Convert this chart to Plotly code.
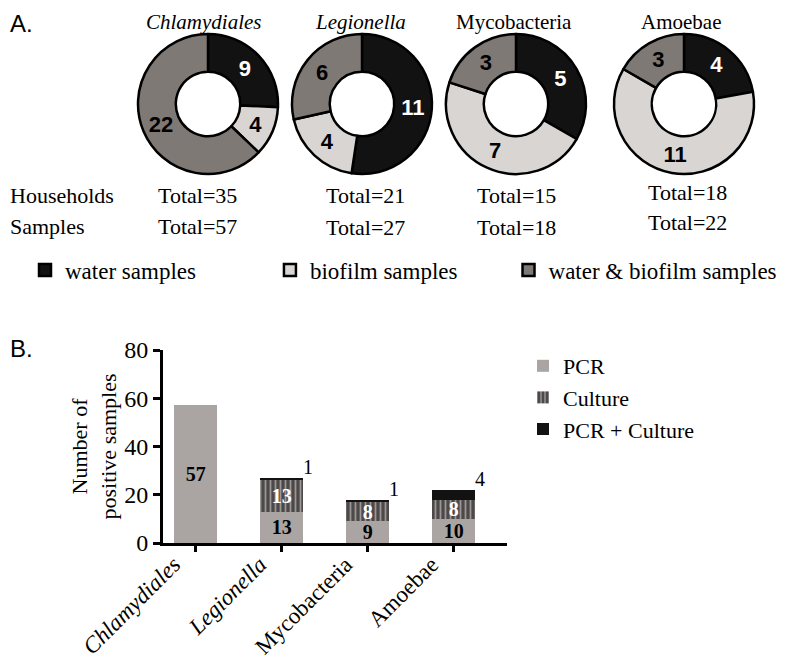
import plotly.graph_objects as go

# page body has an 8px margin: figure is sized to fill the rest of the window
OX, OY = 8, 8
W, H = 782, 653

# ---------------- data ----------------
organisms = ["Chlamydiales", "Legionella", "Mycobacteria", "Amoebae"]
organism_ticktext = ["<i>Chlamydiales</i>", "<i>Legionella</i>", "Mycobacteria", "Amoebae"]
sample_types = ["water samples", "biofilm samples", "water & biofilm samples"]
water_only = [9, 11, 5, 4]
biofilm_only = [4, 4, 7, 11]
water_and_biofilm = [22, 6, 3, 3]
households_total = [35, 21, 15, 18]
samples_total = [57, 27, 18, 22]

method_names = ["PCR", "Culture", "PCR + Culture"]
pcr = [57, 13, 9, 10]
culture = [0, 13, 8, 8]
pcr_culture = [0, 1, 1, 4]
y_ticks = [0, 20, 40, 60, 80]

# ---------------- styling ----------------
SERIF = "Liberation Serif"
SANS = "Liberation Sans"
slice_colors = ["#121212", "#d9d5d2", "#7f7975"]
slice_text_colors = ["white", "black", "black"]
pcr_color = "#aaa4a3"
culture_bg = "#4e4949"
culture_fg = "#9c9797"
both_color = "#121212"

# trailing no-break spaces only widen the legend entries (spacing like the reference)
NBSP = "\u00a0"
legend_pad = [12, 8, 0]
legend_labels = [t + NBSP * p for t, p in zip(sample_types, legend_pad)]


def fx(px):
    return (px - OX) / W


def fy(py):
    return 1 - (py - OY) / H


fig = go.Figure()

# ---------------- Panel A: donuts ----------------
pie_cx = [208, 362, 516, 684]
pie_cy = 104
pie_r = 70
title_cx = [204, 360, 514, 681]
total_cx = [197, 365, 516, 687]
hh_y = [195, 195, 195, 193]
smp_y = [226, 227, 227, 222]

for i, org in enumerate(organisms):
    vals = [water_only[i], biofilm_only[i], water_and_biofilm[i]]
    cx = pie_cx[i]
    fig.add_trace(go.Pie(
        labels=legend_labels,
        values=vals,
        hole=0.46,
        sort=False,
        direction="clockwise",
        rotation=0,
        marker=dict(colors=slice_colors, line=dict(color="black", width=2.5)),
        textinfo="value",
        textposition="inside",
        insidetextorientation="horizontal",
        textfont=dict(family=SANS, size=22, color=slice_text_colors, weight="bold"),
        domain=dict(x=[fx(cx - pie_r), fx(cx + pie_r)],
                    y=[fy(pie_cy + pie_r), fy(pie_cy - pie_r)]),
        legend="legend",
        showlegend=(i == 0),
        name=org,
    ))
    fig.add_annotation(text=organism_ticktext[i], xref="paper", yref="paper",
                       x=fx(title_cx[i]), y=1, xanchor="center", yanchor="top",
                       showarrow=False, font=dict(family=SERIF, size=21, color="black"))
    fig.add_annotation(text=f"Total={households_total[i]}", xref="paper", yref="paper",
                       x=fx(total_cx[i]), y=fy(hh_y[i]), xanchor="center", yanchor="middle",
                       showarrow=False, font=dict(family=SERIF, size=22, color="black"))
    fig.add_annotation(text=f"Total={samples_total[i]}", xref="paper", yref="paper",
                       x=fx(total_cx[i]), y=fy(smp_y[i]), xanchor="center", yanchor="middle",
                       showarrow=False, font=dict(family=SERIF, size=22, color="black"))

fig.add_annotation(text="Households", xref="paper", yref="paper", x=0, y=fy(195),
                   xanchor="left", yanchor="middle", showarrow=False,
                   font=dict(family=SERIF, size=22, color="black"))
fig.add_annotation(text="Samples", xref="paper", yref="paper", x=0, y=fy(226),
                   xanchor="left", yanchor="middle", showarrow=False,
                   font=dict(family=SERIF, size=22, color="black"))
fig.add_annotation(text="A.", xref="paper", yref="paper", x=0, y=1,
                   xanchor="left", yanchor="top", showarrow=False,
                   font=dict(family=SANS, size=24, color="black"))
fig.add_annotation(text="B.", xref="paper", yref="paper", x=0, y=fy(348),
                   xanchor="left", yanchor="middle", showarrow=False,
                   font=dict(family=SANS, size=24, color="black"))

# ---------------- Panel B: stacked bars ----------------
def blank_zero(vals):
    return [str(v) if v else "" for v in vals]

fig.add_trace(go.Bar(
    x=organisms, y=pcr, name=method_names[0],
    marker=dict(color=pcr_color, line=dict(width=0)),
    text=blank_zero(pcr), textposition="inside", insidetextanchor="middle", textangle=0,
    textfont=dict(family=SERIF, size=20, color="black", weight="bold"),
    legend="legend2", legendgroup="pcr", xaxis="x", yaxis="y",
))
fig.add_trace(go.Bar(
    x=organisms, y=culture, name=method_names[1],
    marker=dict(color=culture_bg, line=dict(width=0),
                pattern=dict(shape="|", bgcolor=culture_bg, fgcolor=culture_fg,
                             size=5, solidity=0.35)),
    text=blank_zero(culture), textposition="inside", insidetextanchor="middle", textangle=0,
    textfont=dict(family=SERIF, size=20, color="white", weight="bold"),
    legend="legend2", legendgroup="culture", xaxis="x", yaxis="y",
))
fig.add_trace(go.Bar(
    x=organisms, y=pcr_culture, name=method_names[2],
    marker=dict(color=both_color, line=dict(width=0)),
    textposition="none",
    legend="legend2", legendgroup="both", xaxis="x", yaxis="y",
))

for i, org in enumerate(organisms):
    if pcr_culture[i]:
        fig.add_annotation(text=str(pcr_culture[i]), xref="x", yref="y",
                           x=org, y=pcr[i] + culture[i] + pcr_culture[i],
                           xanchor="left", yanchor="bottom", xshift=19, yshift=-2,
                           showarrow=False, font=dict(family=SERIF, size=20, color="black"))

fig.update_layout(
    template="none",
    width=W, height=H,
    margin=dict(l=0, r=0, t=0, b=0, autoexpand=False),
    paper_bgcolor="white", plot_bgcolor="white",
    barmode="stack", bargap=0.5,
    uniformtext=dict(minsize=19, mode="show"),
    font=dict(family=SERIF, color="black"),
    xaxis=dict(domain=[fx(163), fx(507)], range=[-0.38, 3.62], automargin=False,
               tickmode="array", tickvals=organisms, ticktext=organism_ticktext,
               tickangle=-45, tickfont=dict(family=SERIF, size=23, color="black"),
               ticklabelshift=-22, ticklabelstandoff=-10,
               showline=True, linecolor="black", linewidth=3,
               ticks="outside", ticklen=6, tickwidth=3, tickcolor="black",
               showgrid=False, zeroline=False, anchor="y"),
    yaxis=dict(domain=[fy(543), fy(350)], range=[0, 80], automargin=False,
               tickmode="array", tickvals=y_ticks,
               tickfont=dict(family=SERIF, size=24, color="black"),
               showline=True, linecolor="black", linewidth=3,
               ticks="outside", ticklen=7, tickwidth=3, tickcolor="black",
               showgrid=False, zeroline=False, anchor="x",
               title=dict(text="Number of<br>positive samples",
                          font=dict(family=SERIF, size=22, color="black"), standoff=2)),
    legend=dict(orientation="h", x=fx(25), y=fy(270), xanchor="left", yanchor="middle",
                font=dict(family=SERIF, size=23, color="black"),
                bgcolor="rgba(0,0,0,0)"),
    legend2=dict(orientation="v", x=fx(523), y=fy(345), xanchor="left", yanchor="top",
                 traceorder="normal",
                 font=dict(family=SERIF, size=22, color="black"),
                 tracegroupgap=8, bgcolor="rgba(0,0,0,0)"),
)

fig.write_html("out.html")
